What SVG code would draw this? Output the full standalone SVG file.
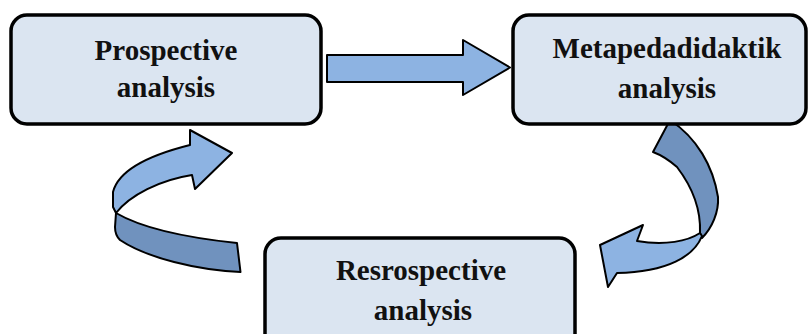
<svg xmlns="http://www.w3.org/2000/svg" width="810" height="334" viewBox="0 0 810 334">
<style>
.box{fill:#DBE5F1;stroke:#000;stroke-width:3.5}
.lbl{font-family:"Liberation Serif","Times New Roman",serif;font-weight:bold;font-size:29px;fill:#111;text-anchor:middle}
.light{fill:#8DB3E2;stroke:#000;stroke-width:2;stroke-linejoin:round}
.dark{fill:#7092BE;stroke:#000;stroke-width:2;stroke-linejoin:round}
</style>
<rect width="810" height="334" fill="#fff"/>
<g id="connectors">
  <polygon class="light" points="327,55 463,55 463,40 510,67.5 463,95 463,82 327,82"/>
  <g id="cycle-left">
    <path class="dark" d="M116,213 C140,227 180,237 237,243 L240.5,272 C197,270 147,258 120,240 C116,236 115,231 115,227 Z"/>
    <path class="light" d="M190,145 L190,130 L232,153 L195,189 L192,175 C160,180 130,195 116,213 L113,207 L113,192 C118,172 146,156 190,145 Z"/>
  </g>
  <g id="cycle-right">
    <path class="dark" d="M653,152 L670,120 C697,138 713,166 718,197 C719,212 712,228 702,238 L700,233 C701,210 693,188 677,167 C669,160 661,155 653,152 Z"/>
    <path class="light" d="M702,236 C694,256 668,272 617,273 L608,287 L600,245 L643,225 L637,241 C665,246 688,241 700,233 Z"/>
  </g>
</g>
<g id="prospective">
  <rect class="box" x="11" y="15" width="310" height="109" rx="16"/>
  <text class="lbl" x="166" y="60">Prospective</text>
  <text class="lbl" x="166" y="97">analysis</text>
</g>
<g id="metapedadidaktik">
  <rect class="box" x="513" y="15" width="293" height="109" rx="16"/>
  <text class="lbl" x="667" y="58">Metapedadidaktik</text>
  <text class="lbl" x="667" y="98">analysis</text>
</g>
<g id="resrospective">
  <rect class="box" x="265" y="238" width="310" height="120" rx="16"/>
  <text class="lbl" x="421" y="280">Resrospective</text>
  <text class="lbl" x="423" y="320">analysis</text>
</g>
</svg>
